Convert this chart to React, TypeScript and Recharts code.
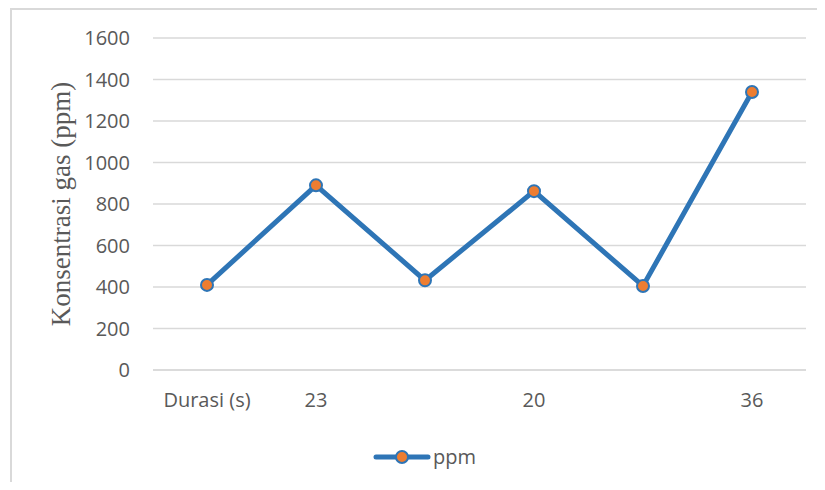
import { LineChart, Line, XAxis, YAxis, CartesianGrid } from 'recharts';

const categories = ['Durasi (s)', '23', '', '20', '', '36'];
const ppmValues = [410, 890, 432, 862, 405, 1340];
const yTicks = [0, 200, 400, 600, 800, 1000, 1200, 1400, 1600];

const data = categories.map((name, i) => ({ name, ppm: ppmValues[i] }));

const BLUE = '#2e75b6';
const ORANGE = '#ed7d31';
const GRID = '#d9d9d9';
const TEXT = '#595959';

// strip of scanned watermark above the frame
const strip = [
  { left: 118, width: 16, color: '#cfcfcf' },
  { left: 134, width: 50, color: '#d2f2e0' },
  { left: 186, width: 22, color: '#cfcfcf' },
  { left: 216, width: 14, color: '#cfcfcf' },
  { left: 232, width: 170, color: '#d2f2e0' },
  { left: 406, width: 10, color: '#cfcfcf' },
  { left: 416, width: 24, color: '#fff8cc' },
  { left: 440, width: 9, color: '#cfcfcf' },
  { left: 449, width: 174, color: '#d2f2e0' },
  { left: 628, width: 12, color: '#cfcfcf' },
  { left: 652, width: 14, color: '#cfcfcf' },
  { left: 666, width: 44, color: '#d2f2e0' },
  { left: 710, width: 16, color: '#cfcfcf' },
];

export default function App() {
  return (
    <div style={{ margin: -8, width: 825, height: 490, position: 'relative', overflow: 'hidden', background: '#fff' }}>
      {strip.map((s, i) => (
        <div
          key={i}
          style={{ position: 'absolute', top: 0, height: 8, left: s.left, width: s.width, background: s.color }}
        />
      ))}
      <div
        style={{
          position: 'absolute',
          left: 10,
          top: 8,
          width: 830,
          height: 500,
          borderLeft: `2px solid ${GRID}`,
          borderTop: `2px solid ${GRID}`,
        }}
      />
      <div style={{ position: 'absolute', left: 0, top: 0 }}>
        <LineChart width={825} height={490} data={data} margin={{ top: 38, right: 19, bottom: 90, left: 0 }}>
          <CartesianGrid vertical={false} stroke={GRID} strokeWidth={1.5} />
          <XAxis
            dataKey="name"
            padding={{ left: 54, right: 54 }}
            axisLine={{ stroke: GRID, strokeWidth: 1.5 }}
            tickLine={false}
            height={30}
            tickMargin={17}
            interval={0}
            tick={{ fontFamily: 'Open Sans', fontSize: 20, fill: TEXT }}
          />
          <YAxis
            width={153}
            domain={[0, 1600]}
            ticks={yTicks}
            axisLine={false}
            tickLine={false}
            tickMargin={17}
            tick={{ fontFamily: 'Open Sans', fontSize: 20, fill: TEXT }}
            label={{
              content: (props: any) => {
                const vb = props.viewBox || {};
                const cy = (vb.y ?? 38) + (vb.height ?? 332) / 2;
                const cx = 61;
                return (
                  <text
                    x={cx}
                    y={cy}
                    transform={`rotate(-90, ${cx}, ${cy})`}
                    textAnchor="middle"
                    dominantBaseline="central"
                    fontFamily="Liberation Serif"
                    fontSize={27}
                    fill={TEXT}
                  >
                    Konsentrasi gas (ppm)
                  </text>
                );
              },
            }}
          />
          <Line
            dataKey="ppm"
            name="ppm"
            stroke={BLUE}
            strokeWidth={5}
            dot={{ r: 6, fill: ORANGE, stroke: BLUE, strokeWidth: 2 }}
            activeDot={false}
            isAnimationActive={false}
          />
        </LineChart>
      </div>
      {/* legend */}
      <div style={{ position: 'absolute', left: 373, top: 443, display: 'flex', alignItems: 'center' }}>
        <svg width={58} height={16}>
          <line x1={3} y1={8} x2={55} y2={8} stroke={BLUE} strokeWidth={5} strokeLinecap="round" />
          <circle cx={29} cy={8} r={6} fill={ORANGE} stroke={BLUE} strokeWidth={2} />
        </svg>
        <span style={{ fontFamily: 'Open Sans', fontSize: 20, color: TEXT, marginLeft: 2 }}>ppm</span>
      </div>
    </div>
  );
}
